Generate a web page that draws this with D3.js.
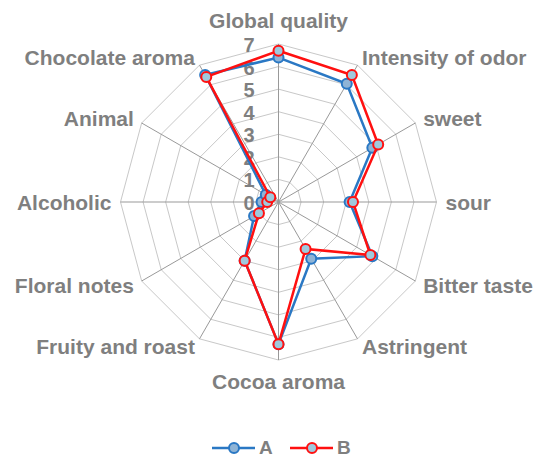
<!DOCTYPE html>
<html>
<head>
<meta charset="utf-8">
<script src="https://d3js.org/d3.v7.min.js"></script>
<style>
    body { margin: 0; background: #fff; }
    text { font-family: "Liberation Sans", Arial, sans-serif; font-weight: bold; fill: #7f7f7f; }
</style>
</head>
<body>
<script>
    var categories = ["Global quality", "Intensity of odor", "sweet", "sour", "Bitter taste", "Astringent",
        "Cocoa aroma", "Fruity and roast", "Floral notes", "Alcoholic", "Animal", "Chocolate aroma"];
    var seriesA = [6.4, 6.05, 4.8, 3.15, 4.8, 2.9, 6.3, 3.0, 1.25, 0.75, 0.65, 6.5];
    var seriesB = [6.7, 6.5, 5.1, 3.3, 4.7, 2.4, 6.3, 3.0, 1.0, 0.5, 0.42, 6.4];
    var seriesNames = ["A", "B"];
    var tickValues = [0, 1, 2, 3, 4, 5, 6, 7];

    var w = 537, h = 457;
    var cx = 278.5, cy = 202, R = 158;

    var svg = d3.select("body").append("svg")
        .attr("width", w)
        .attr("height", h);

    var rScale = d3.scaleLinear().domain([0, 7]).range([0, R]);
    var angle = d3.scaleLinear().domain([0, categories.length]).range([0, 2 * Math.PI]);

    function pt(i, v) {
        var a = angle(i);
        return [cx + rScale(v) * Math.sin(a), cy - rScale(v) * Math.cos(a)];
    }

    // rings
    var g = svg.append("g");
    tickValues.slice(1).forEach(function(t) {
        g.append("polygon")
            .attr("points", categories.map(function(c, i) { return pt(i, t).join(","); }).join(" "))
            .attr("fill", "none")
            .attr("stroke", "#c8c8c8")
            .attr("stroke-width", 1);
    });
    // spokes
    categories.forEach(function(c, i) {
        var p = pt(i, 7);
        g.append("line")
            .attr("x1", cx).attr("y1", cy)
            .attr("x2", p[0]).attr("y2", p[1])
            .attr("stroke", "#999")
            .attr("stroke-width", 1);
    });

    // category labels
    categories.forEach(function(c, i) {
        var a = angle(i);
        var p = pt(i, 7.4);
        var s = Math.sin(a), co = Math.cos(a);
        var anchor = Math.abs(s) < 0.01 ? "middle" : (s > 0 ? "start" : "end");
        var dy = 0;
        if (Math.abs(s) < 0.01) dy = co > 0 ? -14 : 12;
        svg.append("text")
            .attr("x", p[0])
            .attr("y", p[1] + dy)
            .attr("text-anchor", anchor)
            .attr("dominant-baseline", "central")
            .attr("font-size", "21px")
            .text(c);
    });

    // radial tick labels
    svg.selectAll(".tick")
        .data(tickValues)
        .enter()
        .append("text")
        .attr("x", cx - 24)
        .attr("y", function(d) { return cy - rScale(d) + 1; })
        .attr("text-anchor", "end")
        .attr("dominant-baseline", "central")
        .attr("font-size", "20px")
        .text(function(d) { return d; });

    var colors = ["#2a78c4", "#ff1010"];
    var fills = ["#8fb4d6", "#9fc9dd"];
    var allSeries = [seriesA, seriesB];

    allSeries.forEach(function(vals, k) {
        var pts = vals.map(function(v, i) { return pt(i, v); });
        svg.append("path")
            .attr("d", d3.line().curve(d3.curveLinearClosed)(pts))
            .attr("fill", "none")
            .attr("stroke", colors[k])
            .attr("stroke-width", 2.5);
        svg.selectAll(".m" + k)
            .data(pts)
            .enter()
            .append("circle")
            .attr("cx", function(d) { return d[0]; })
            .attr("cy", function(d) { return d[1]; })
            .attr("r", 5)
            .attr("fill", fills[k])
            .attr("stroke", colors[k])
            .attr("stroke-width", 2);
    });

    // legend
    var legendX = [212, 290];
    seriesNames.forEach(function(n, k) {
        var x0 = legendX[k], ly = 448;
        svg.append("line")
            .attr("x1", x0).attr("x2", x0 + 43)
            .attr("y1", ly).attr("y2", ly)
            .attr("stroke", colors[k])
            .attr("stroke-width", 2.5);
        svg.append("circle")
            .attr("cx", x0 + 22).attr("cy", ly)
            .attr("r", 5)
            .attr("fill", fills[k])
            .attr("stroke", colors[k])
            .attr("stroke-width", 2);
        svg.append("text")
            .attr("x", x0 + 47)
            .attr("y", ly + 6)
            .attr("font-size", "19px")
            .text(n);
    });
</script>
</body>
</html>
